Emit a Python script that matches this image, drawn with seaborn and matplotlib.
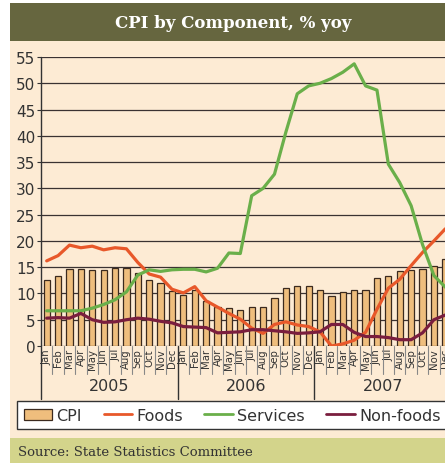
import matplotlib
matplotlib.use("Agg")
import matplotlib.pyplot as plt
import matplotlib.transforms as mtransforms
from matplotlib.patches import Rectangle, Patch
from matplotlib.lines import Line2D
import pandas as pd
import seaborn as sns

# data (% yoy), Jan 2005 .. Dec 2007
months = ['Jan', 'Feb', 'Mar', 'Apr', 'May', 'Jun', 'Jul', 'Aug', 'Sep', 'Oct', 'Nov', 'Dec'] * 3
years = ['2005', '2006', '2007']
cpi = [12.6, 13.3, 14.6, 14.6, 14.4, 14.4, 14.8, 14.8, 13.9, 12.5, 11.9, 10.4,
       9.8, 10.7, 8.6, 7.4, 7.2, 6.8, 7.4, 7.4, 9.2, 11.0, 11.5, 11.5,
       10.7, 9.5, 10.2, 10.6, 10.6, 12.9, 13.4, 14.3, 14.5, 14.6, 15.2, 16.6]
foods = [16.2, 17.2, 19.2, 18.7, 19.0, 18.3, 18.7, 18.5, 15.9, 13.7, 13.1, 10.8,
         10.1, 11.3, 8.6, 7.4, 6.2, 5.1, 3.4, 2.4, 4.1, 4.6, 4.0, 3.7,
         2.7, 0.0, 0.4, 1.1, 2.6, 7.0, 11.0, 12.7, 15.3, 17.8, 20.0, 22.3]
services = [6.7, 6.7, 6.7, 6.7, 7.2, 7.9, 8.8, 10.3, 13.5, 14.5, 14.2, 14.5,
            14.6, 14.6, 14.1, 14.8, 17.7, 17.6, 28.6, 30.0, 32.7, 40.7, 48.0, 49.5,
            50.0, 50.9, 52.1, 53.7, 49.5, 48.7, 34.6, 31.1, 26.7, 19.3, 13.4, 11.2]
nonfoods = [5.3, 5.4, 5.3, 6.2, 5.0, 4.5, 4.6, 5.0, 5.3, 5.1, 4.7, 4.4,
            3.7, 3.6, 3.5, 2.5, 2.6, 2.7, 3.1, 3.1, 2.9, 2.7, 2.4, 2.5,
            2.7, 4.1, 4.1, 2.6, 1.8, 1.8, 1.6, 1.2, 1.2, 2.5, 5.0, 5.9]

df = pd.DataFrame({'idx': range(len(cpi)), 'CPI': cpi, 'Foods': foods,
                   'Services': services, 'Non-foods': nonfoods})

bar_col = '#EFBE7D'
line_cols = {'Foods': '#E8582A', 'Services': '#6AAF4A', 'Non-foods': '#7A1E3E'}
txt = '#333333'

sns.set_style("white")
plt.rcParams['font.family'] = ['DejaVu Sans']

W, H = 445, 464
fig = plt.figure(figsize=(W / 100, H / 100), dpi=100)
fig.patch.set_facecolor('white')
# background panels
fig.add_artist(Rectangle((10 / W, 1 - 439 / H), 435 / W, 397 / H, transform=fig.transFigure,
                         facecolor='#FDEBD4', edgecolor='none', zorder=-2))
fig.add_artist(Rectangle((10 / W, 1 - 42 / H), 435 / W, 38 / H, transform=fig.transFigure,
                         facecolor='#66663F', edgecolor='none', zorder=-2))
fig.add_artist(Rectangle((10 / W, 0), 435 / W, 25 / H, transform=fig.transFigure,
                         facecolor='#D3D48B', edgecolor='none', zorder=-2))
fig.text(233 / W, 1 - 23 / H, 'CPI by Component, % yoy', color='white', fontweight='bold',
         family='DejaVu Serif', fontsize=12, ha='center', va='center')
fig.text(18 / W, 1 - 453 / H, 'Source: State Statistics Committee', color=txt,
         family='DejaVu Serif', fontsize=9.5, ha='left', va='center')

ax = fig.add_axes([41 / W, 1 - 347 / H, 410 / W, 289 / H])
ax.set_facecolor('none')

sns.barplot(data=df, x='idx', y='CPI', color=bar_col, saturation=1, width=0.55,
            edgecolor='#3b2a1e', linewidth=0.9, ax=ax, zorder=2)
for col, c in line_cols.items():
    sns.lineplot(data=df, x='idx', y=col, color=c, lw=2.3, ax=ax, zorder=3,
                 solid_joinstyle='round', solid_capstyle='round')

ax.set_xlim(-0.5, 35.5)
ax.set_ylim(0, 55)
ax.set_yticks(range(0, 56, 5))
ax.set_xticks(range(len(months)))
ax.set_xticklabels(months, rotation=90, fontsize=7.3, color=txt)
ax.set_xlabel('')
ax.set_ylabel('')
ax.tick_params(axis='x', length=0, pad=1.5)
ax.tick_params(axis='y', left=True, length=3, width=0.8, color=txt, labelsize=11,
               labelcolor=txt, pad=1)
ax.yaxis.grid(True, color='#3a3232', lw=0.9)
ax.set_axisbelow(True)
for s in ax.spines.values():
    s.set_visible(False)

tr = mtransforms.blended_transform_factory(ax.transData, ax.transAxes)
ax.plot([-0.5, -0.5], [1, -53 / 289], transform=tr, clip_on=False, color=txt, lw=1)
for k in range(len(months) - 1):
    if k % 12 == 11:
        ax.plot([k + 0.5] * 2, [0, -53 / 289], transform=tr, clip_on=False, color=txt, lw=1)
    else:
        ax.plot([k + 0.5] * 2, [0, -28 / 289], transform=tr, clip_on=False, color='#888888', lw=0.8)
for i, y in enumerate(years):
    ax.text(5.5 + 12 * i, -40 / 289, y, transform=tr, ha='center', va='center',
            fontsize=11.5, color=txt)

handles = [Patch(facecolor=bar_col, edgecolor='#3b2a1e', lw=0.9)]
handles += [Line2D([], [], color=c, lw=2) for c in line_cols.values()]
labels = ['CPI'] + list(line_cols.keys())
leg = fig.legend(handles, labels, ncol=4, loc='upper left', bbox_to_anchor=(17 / W, 1 - 402 / H),
                 frameon=True, fancybox=False, edgecolor=txt, facecolor='white', framealpha=1,
                 fontsize=11.5, handlelength=1.8, handletextpad=0.25, columnspacing=1.35,
                 borderpad=0.42, borderaxespad=0, labelcolor=txt)
leg.get_frame().set_linewidth(1.0)

fig.savefig('out.png', dpi=100)
